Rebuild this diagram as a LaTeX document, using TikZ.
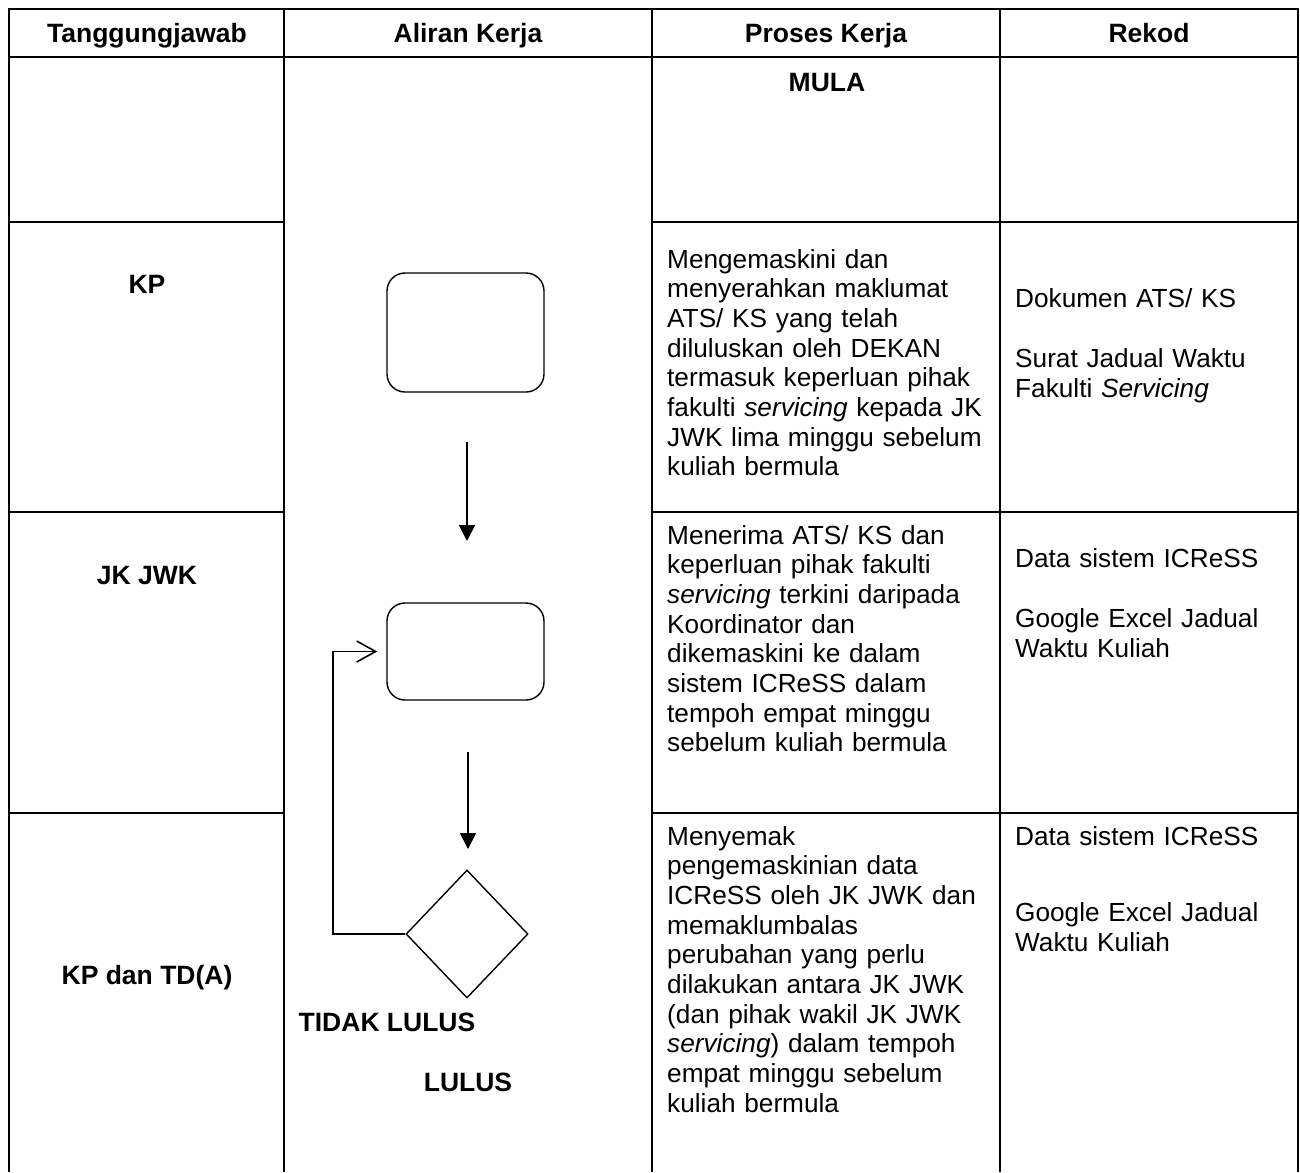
\documentclass[tikz,border=0pt]{standalone}
\usepackage{fontspec}
\setmainfont{Liberation Sans}
\usetikzlibrary{arrows.meta,shapes.geometric}
\begin{document}
\begin{tikzpicture}[x=1pt,y=-1pt,
  grid/.style={line width=2.4pt},
  headtext/.style={font=\fontsize{26.5}{30}\selectfont\bfseries,anchor=base,inner sep=0pt},
  steptext/.style={font=\fontsize{26.2}{29.7}\selectfont,anchor=base west,inner sep=0pt,text width=330pt,align=left},
  flowbox/.style={draw,line width=1.4pt,rounded corners=18pt,minimum width=157pt},
  flowdiamond/.style={draw,diamond,line width=1.4pt,inner sep=0pt,minimum width=122pt,minimum height=128pt},
  flowarrow/.style={line width=1.8pt,-{Triangle[length=16pt,width=16pt]}},
  backarrow/.style={line width=1.5pt,-{Straight Barb[length=19pt,width=21pt,line width=1.6pt]}}]
\useasboundingbox (0,0) rectangle (1300,1172);
% table
\draw[grid] (9,1172) -- (9,9) -- (1298,9) -- (1298,1172);
\draw[grid] (9,57) -- (1298,57);
\draw[grid] (284,9) -- (284,1172);
\draw[grid] (652,9) -- (652,1172);
\draw[grid] (1000,9) -- (1000,1172);
\draw[grid] (9,222) -- (284,222);
\draw[grid] (652,222) -- (1298,222);
\draw[grid] (9,512) -- (284,512);
\draw[grid] (652,512) -- (1298,512);
\draw[grid] (9,813) -- (284,813);
\draw[grid] (652,813) -- (1298,813);
% header
\node[headtext] (hTanggung) at (147,43) {Tanggungjawab};
\node[headtext] (hAliran) at (468,43) {Aliran Kerja};
\node[headtext] (hProses) at (826,43) {Proses Kerja};
\node[headtext] (hRekod) at (1149,43) {Rekod};
% tanggungjawab
\node[headtext] (whoKP) at (147,293) {KP};
\node[headtext] (whoJK) at (147,584) {JK JWK};
\node[headtext] (whoTD) at (147,984) {KP dan TD(A)};
% aliran kerja
\node[flowbox,minimum height=119pt] (kemaskini) at (465.5,332.5) {};
\node[flowbox,minimum height=97pt] (terima) at (465.5,651.5) {};
\node[flowdiamond] (semak) at (467,934) {};
\coordinate (a1s) at (467,442);
\coordinate (a1e) at (467,541);
\coordinate (a2s) at (468,752);
\coordinate (a2e) at (468,849);
\coordinate (balik) at (333,934);
\draw[flowarrow] (a1s) -- (a1e);
\draw[flowarrow] (a2s) -- (a2e);
\draw[backarrow] (semak.west) -- (balik) |- ([xshift=-9pt]terima.west);
\node[headtext] (tidak) at (387,1031) {TIDAK LULUS};
\node[headtext] (lulus) at (468,1091) {LULUS};
% proses kerja
\node[headtext] (mula) at (827,91) {MULA};
\node[steptext] (p1) at (667,268) {Mengemaskini dan\\menyerahkan maklumat\\ATS/ KS yang telah\\diluluskan oleh DEKAN\\termasuk keperluan pihak\\fakulti \textit{servicing} kepada JK\\JWK lima minggu sebelum\\kuliah bermula};
\node[steptext] (p2) at (667,544) {Menerima ATS/ KS dan\\keperluan pihak fakulti\\\textit{servicing} terkini daripada\\Koordinator dan\\dikemaskini ke dalam\\sistem ICReSS dalam\\tempoh empat minggu\\sebelum kuliah bermula};
\node[steptext] (p3) at (667,845) {Menyemak\\pengemaskinian data\\ICReSS oleh JK JWK dan\\memaklumbalas\\perubahan yang perlu\\dilakukan antara JK JWK\\(dan pihak wakil JK JWK\\\textit{servicing}) dalam tempoh\\empat minggu sebelum\\kuliah bermula};
% rekod
\node[steptext,text width=280pt] (r1) at (1015,307) {Dokumen ATS/ KS\\[31pt]Surat Jadual Waktu\\Fakulti \textit{Servicing}};
\node[steptext,text width=280pt] (r2) at (1015,567) {Data sistem ICReSS\\[31pt]Google Excel Jadual\\Waktu Kuliah};
\node[steptext,text width=280pt] (r3) at (1015,845) {Data sistem ICReSS\\[47pt]Google Excel Jadual\\Waktu Kuliah};
\end{tikzpicture}
\end{document}
